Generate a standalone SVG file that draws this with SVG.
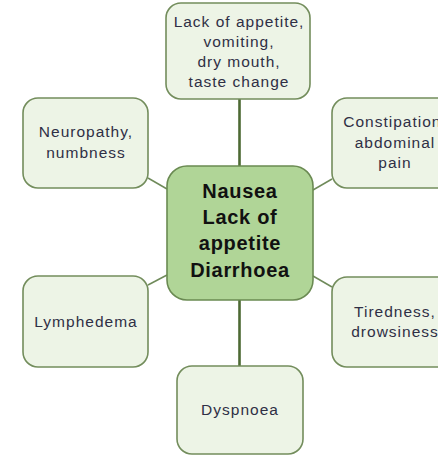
<svg xmlns="http://www.w3.org/2000/svg" width="438" height="456" viewBox="0 0 438 456">
<style>
.box{fill:#edf4e6;stroke:#738d5c;stroke-width:1.6}
.core{fill:#b0d597;stroke:#6a8a52;stroke-width:1.6}
.t{font-family:"Liberation Sans",Arial,sans-serif;font-size:15.5px;letter-spacing:1px;fill:#2f2f45;text-anchor:middle}
.c{font-family:"Liberation Sans",Arial,sans-serif;font-size:20px;font-weight:bold;letter-spacing:0.7px;fill:#111;text-anchor:middle}
.v{stroke:#4d6a34;stroke-width:2.6;fill:none}
.d{stroke:#6f8a5a;stroke-width:1.5;fill:none}
</style>
<rect width="438" height="456" fill="#ffffff"/>
<g id="connectors">
<line class="v" x1="239.5" y1="99" x2="239.5" y2="166"/>
<line class="v" x1="239.5" y1="300" x2="239.5" y2="366"/>
<line class="d" x1="148" y1="178" x2="167" y2="189"/>
<line class="d" x1="313" y1="190" x2="332" y2="179"/>
<line class="d" x1="148" y1="285" x2="167" y2="275"/>
<line class="d" x1="313" y1="276" x2="332" y2="287"/>
</g>
<g id="node-top">
<rect class="box" x="166" y="3" width="144" height="96" rx="15"/>
<text class="t" x="239" y="27">Lack of appetite,</text>
<text class="t" x="239" y="47">vomiting,</text>
<text class="t" x="239" y="67">dry mouth,</text>
<text class="t" x="239" y="87">taste change</text>
</g>
<g id="node-center">
<rect class="core" x="167" y="166" width="146" height="134" rx="20"/>
<text class="c" x="240" y="198">Nausea</text>
<text class="c" x="240" y="224">Lack of</text>
<text class="c" x="240" y="250">appetite</text>
<text class="c" x="240" y="277">Diarrhoea</text>
</g>
<g id="node-neuropathy">
<rect class="box" x="23" y="98" width="125" height="90" rx="15"/>
<text class="t" x="86" y="137">Neuropathy,</text>
<text class="t" x="86" y="158">numbness</text>
</g>
<g id="node-constipation">
<rect class="box" x="332" y="98" width="125" height="90" rx="15"/>
<text class="t" x="395" y="127">Constipation,</text>
<text class="t" x="395" y="148">abdominal</text>
<text class="t" x="395" y="168">pain</text>
</g>
<g id="node-lymphedema">
<rect class="box" x="23" y="276" width="125" height="91" rx="15"/>
<text class="t" x="86" y="327">Lymphedema</text>
</g>
<g id="node-tiredness">
<rect class="box" x="332" y="277" width="125" height="90" rx="15"/>
<text class="t" x="395" y="317">Tiredness,</text>
<text class="t" x="395" y="337">drowsiness</text>
</g>
<g id="node-dyspnoea">
<rect class="box" x="177" y="366" width="126" height="88" rx="15"/>
<text class="t" x="240" y="415">Dyspnoea</text>
</g>
</svg>
